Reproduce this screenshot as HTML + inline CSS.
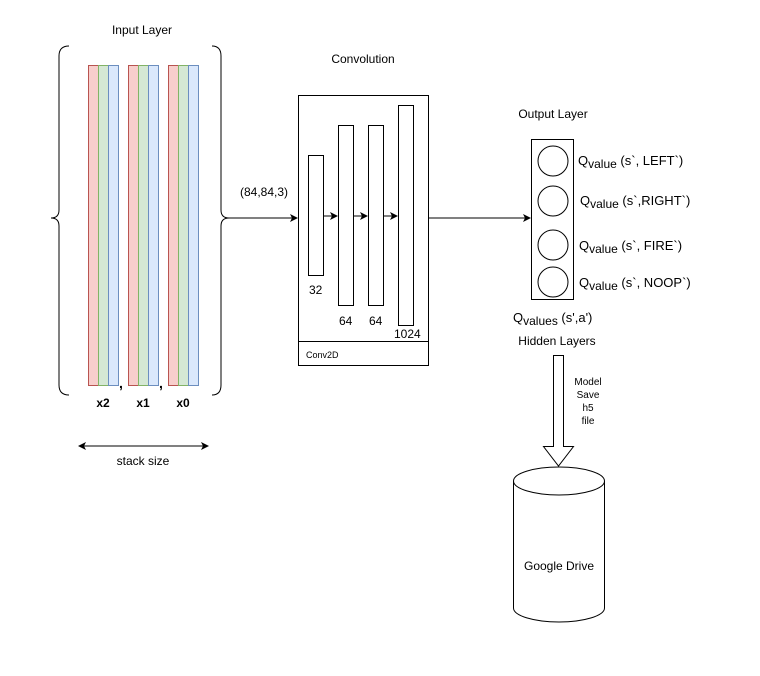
<html><body style="margin:0;background:#fff">
<svg width="760" height="676" xmlns="http://www.w3.org/2000/svg" font-family="Liberation Sans, sans-serif" font-size="12">
<defs><marker id="a" markerWidth="8" markerHeight="8" refX="7" refY="4" orient="auto" markerUnits="userSpaceOnUse"><path d="M0,0 L8,4 L0,8 L2,4z" fill="#000"/></marker>
<marker id="b" markerWidth="8" markerHeight="8" refX="1" refY="4" orient="auto" markerUnits="userSpaceOnUse"><path d="M8,0 L0,4 L8,8 L6,4z" fill="#000"/></marker></defs>
<text x="142" y="34" text-anchor="middle">Input Layer</text>
<g stroke-width="1">
<g id="g"><rect x="88.5" y="65.5" width="10" height="320" fill="#f8cecc" stroke="#b85450"/><rect x="98.5" y="65.5" width="10" height="320" fill="#d5e8d4" stroke="#82b366"/><rect x="108.5" y="65.5" width="10" height="320" fill="#dae8fc" stroke="#6c8ebf"/></g>
<use href="#g" x="40"/><use href="#g" x="80"/>
</g>
<text x="119" y="388" font-weight="bold" font-size="14">,</text><text x="159" y="388" font-weight="bold" font-size="14">,</text>
<text x="103" y="407" text-anchor="middle" font-weight="bold">x2</text>
<text x="143" y="407" text-anchor="middle" font-weight="bold">x1</text>
<text x="183" y="407" text-anchor="middle" font-weight="bold">x0</text>
<path d="M69,46 Q59,46 59,56 L59,210 Q59,218 51,218 Q59,218 59,226 L59,385 Q59,395 69,395" fill="none" stroke="#000"/>
<path d="M212,46 Q221,46 221,56 L221,210 Q221,218 229,218 Q221,218 221,226 L221,385 Q221,395 212,395" fill="none" stroke="#000"/>
<line x1="229" y1="218" x2="297" y2="218" stroke="#000" marker-end="url(#a)"/>
<text x="240" y="196">(84,84,3)</text>
<line x1="79" y1="446" x2="208" y2="446" stroke="#000" marker-end="url(#a)" marker-start="url(#b)"/>
<text x="143" y="465" text-anchor="middle">stack size</text>
<text x="363" y="63" text-anchor="middle">Convolution</text>
<rect x="298.5" y="95.5" width="130" height="270" fill="#fff" stroke="#000"/>
<line x1="298" y1="341.5" x2="428" y2="341.5" stroke="#000"/>
<text x="306" y="358" font-size="9">Conv2D</text>
<g fill="#fff" stroke="#000">
<rect x="308.5" y="155.5" width="15" height="120"/><rect x="338.5" y="125.5" width="15" height="180"/><rect x="368.5" y="125.5" width="15" height="180"/><rect x="398.5" y="105.5" width="15" height="220"/></g>
<g stroke="#000"><line x1="323" y1="216" x2="337" y2="216" marker-end="url(#a)"/><line x1="353" y1="216" x2="367" y2="216" marker-end="url(#a)"/><line x1="383" y1="216" x2="397" y2="216" marker-end="url(#a)"/>
<line x1="428" y1="218" x2="530" y2="218" marker-end="url(#a)"/></g>
<text x="309" y="294">32</text><text x="339" y="325">64</text><text x="369" y="325">64</text><text x="394" y="338">1024</text>
<text x="553" y="118" text-anchor="middle">Output Layer</text>
<rect x="531.5" y="139.5" width="42" height="160" fill="#fff" stroke="#000"/>
<g fill="#fff" stroke="#000"><circle cx="553" cy="161" r="15"/><circle cx="553" cy="201" r="15"/><circle cx="553" cy="245" r="15"/><circle cx="553" cy="282" r="15"/></g>
<g font-size="13"><text x="578" y="165">Q<tspan font-size="12" dy="3">value</tspan><tspan dy="-3"> (s`, LEFT`)</tspan></text>
<text x="580" y="205">Q<tspan font-size="12" dy="3">value</tspan><tspan dy="-3"> (s`,RIGHT`)</tspan></text>
<text x="579" y="250">Q<tspan font-size="12" dy="3">value</tspan><tspan dy="-3"> (s`, FIRE`)</tspan></text>
<text x="579" y="287">Q<tspan font-size="12" dy="3">value</tspan><tspan dy="-3"> (s`, NOOP`)</tspan></text>
<text x="513" y="322">Q<tspan font-size="12" dy="3">values</tspan><tspan dy="-3"> (s',a')</tspan></text></g>
<text x="557" y="345" text-anchor="middle">Hidden Layers</text>
<path d="M553.5,355.5 L563.5,355.5 L563.5,446.5 L573.5,446.5 L558.5,466 L543.5,446.5 L553.5,446.5 Z" fill="#fff" stroke="#000"/>
<g font-size="10" text-anchor="middle"><text x="588" y="385">Model</text><text x="588" y="398">Save</text><text x="588" y="411">h5</text><text x="588" y="424">file</text></g>
<path d="M513.5,481 L513.5,608 A45.5,14 0 0 0 604.5,608 L604.5,481" fill="#fff" stroke="#000"/>
<ellipse cx="559" cy="481" rx="45.5" ry="14" fill="#fff" stroke="#000"/>
<text x="559" y="570" text-anchor="middle">Google Drive</text>
</svg>
</body></html>
